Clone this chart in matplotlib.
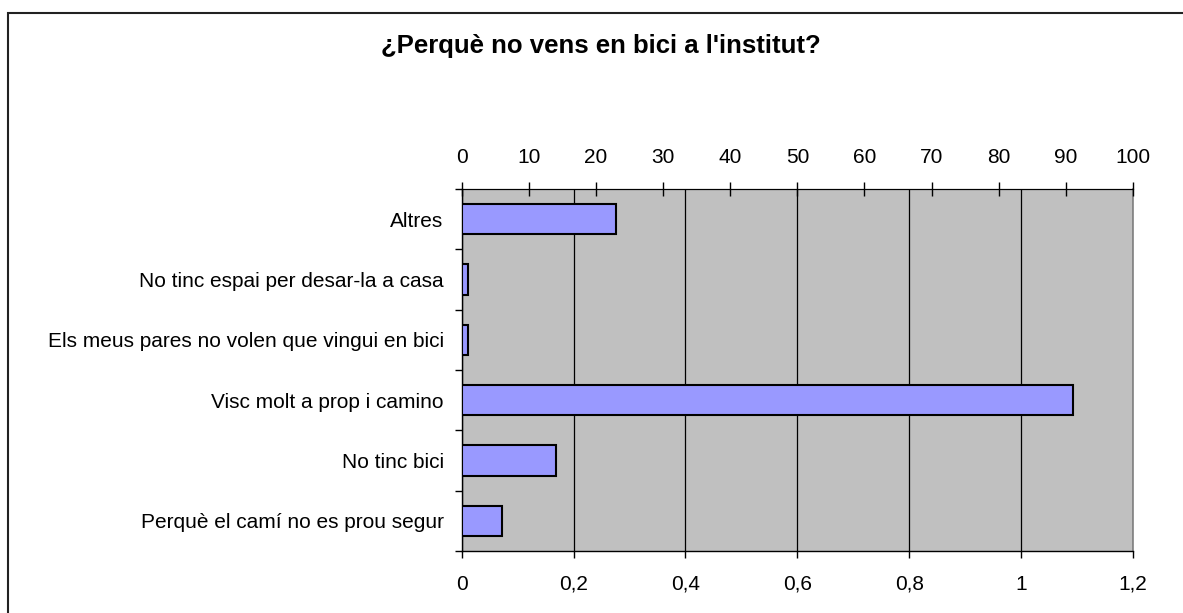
import matplotlib
matplotlib.use("Agg")
import matplotlib.pyplot as plt
from matplotlib.patches import Rectangle
from matplotlib.ticker import FixedLocator
import numpy as np

plt.rcParams['font.family'] = ['Liberation Sans', 'DejaVu Sans']

title = "¿Perquè no vens en bici a l'institut?"
categories = ["Perquè el camí no es prou segur", "No tinc bici", "Visc molt a prop i camino",
              "Els meus pares no volen que vingui en bici", "No tinc espai per desar-la a casa", "Altres"]
values = [6, 14, 91, 1, 1, 23]
top_ticks = [0, 10, 20, 30, 40, 50, 60, 70, 80, 90, 100]
bottom_ticks = [0, 0.2, 0.4, 0.6, 0.8, 1.0, 1.2]
bottom_labels = ["0", "0,2", "0,4", "0,6", "0,8", "1", "1,2"]

fig = plt.figure(figsize=(11.83, 6.13), dpi=100)
fig.patches.append(Rectangle((7.5/1183, -0.1), 1.2, 1 - 13/613 + 0.1, transform=fig.transFigure,
                             fill=False, edgecolor='#222222', linewidth=1.5))

ax = fig.add_axes([461.7/1183, 1 - 551/613, (1133 - 461.7)/1183, (551 - 189)/613])
ax.set_facecolor('#C0C0C0')
ax.set_xlim(0, 1.2)
ax.set_xticks(bottom_ticks)
ax.set_xticklabels(bottom_labels, fontsize=15)
ax.grid(axis='x', color='black', linewidth=0.9)
ax.set_axisbelow(True)
ax.tick_params(axis='x', direction='out', length=5, width=1, pad=12)

n = len(categories)
ax.set_ylim(-0.5, n - 0.5)
ax.set_yticks(np.arange(n))
ax.set_yticklabels(categories, fontsize=15)
ax.tick_params(axis='y', length=0, pad=13)
ax.yaxis.set_minor_locator(FixedLocator(np.arange(-0.5, n, 1.0)))
ax.tick_params(axis='y', which='minor', direction='out', length=5, width=1)

for side in ['left', 'bottom']:
    ax.spines[side].set_color('black')
    ax.spines[side].set_linewidth(1)
ax.spines['right'].set_color('#808080')
ax.spines['right'].set_linewidth(1.2)
ax.spines['top'].set_color('black')

ax2 = ax.twiny()
ax2.set_xlim(0, 100)
ax2.set_xticks(top_ticks)
ax2.set_xticklabels([str(t) for t in top_ticks], fontsize=15)
ax2.tick_params(axis='x', direction='inout', length=10, width=1, pad=11)
ax2.barh(np.arange(n), values, height=0.5, color='#9999FF', edgecolor='black', linewidth=1.5, zorder=3)
ax2.set_ylim(-0.5, n - 0.5)
for s in ax2.spines.values():
    s.set_visible(False)
ax2.spines['top'].set_visible(True)
ax2.spines['top'].set_color('black')

fig.text(601/1183, 1 - 46/613, title, ha='center', va='center', fontsize=18.5, fontweight='bold')

fig.savefig("out.png", dpi=100)
